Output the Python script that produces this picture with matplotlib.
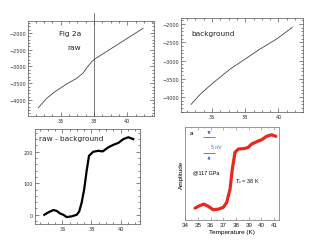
import matplotlib
matplotlib.use('Agg')
import matplotlib.pyplot as plt
from matplotlib.ticker import MultipleLocator

# raw signal (top left)
raw_t = [34.66, 35.16, 35.66, 36.36, 36.96, 37.35, 37.59, 37.86, 38.05,
         38.75, 39.55, 40.35, 40.95]
raw_v = [-4230, -3950, -3752, -3522, -3353, -3194, -3024, -2856, -2776,
         -2555, -2302, -2050, -1860]

# background (top right)
bg_t = [34.74, 35.3, 36.1, 37.1, 38.0, 38.9, 39.9, 40.84]
bg_v = [-4200, -3918, -3598, -3233, -2959, -2685, -2411, -2090]

# raw - background (bottom left)
diff_t = [34.77, 35.04, 35.38, 35.6, 35.84, 36.07, 36.3, 36.64, 36.99, 37.16,
          37.33, 37.5, 37.67, 37.83, 38.12, 38.47, 38.77, 39.15, 39.5, 39.84,
          40.18, 40.52, 40.86]
diff_v = [0, 7.5, 15, 12.7, 4.4, 0, -7.3, -5, 0, 10.6, 39, 81, 140, 187, 200,
          203, 201, 214, 222, 228, 240, 246, 240]

# published curve (bottom right), arbitrary amplitude units
pub_t = [34.78, 35.12, 35.49, 35.83, 36.22, 36.61, 37.0, 37.27, 37.53, 37.71,
         37.92, 38.18, 38.7, 38.96, 39.23, 39.62, 40.01, 40.4, 40.79, 41.13]
pub_v = [12.9, 15.4, 17.2, 14.7, 11.1, 11.8, 13.7, 19, 33.3, 54.8, 72.8, 76.3,
         77, 78.2, 81.7, 84.2, 86.3, 90, 91.7, 90]

fig = plt.figure(figsize=(3.27, 2.53), dpi=100)
fig.patch.set_facecolor('white')

spine_col = '#555555'


def igor_style(ax, ymaj, ymin):
    ax.xaxis.set_major_locator(MultipleLocator(2))
    ax.xaxis.set_minor_locator(MultipleLocator(0.5))
    ax.yaxis.set_major_locator(MultipleLocator(ymaj))
    ax.yaxis.set_minor_locator(MultipleLocator(ymin))
    ax.tick_params(which='both', direction='in', top=True, right=True,
                   labelsize=3.5, pad=1.5, width=0.5, colors=spine_col,
                   labelcolor='#333333')
    ax.tick_params(which='major', length=2.8)
    ax.tick_params(which='minor', length=1.5)
    for s in ax.spines.values():
        s.set_linewidth(0.5)
        s.set_color(spine_col)


# top left: raw
ax1 = fig.add_axes([0.0865, 0.539, 0.384, 0.375])
ax1.plot(raw_t, raw_v, color='#444444', lw=0.6)
ax1.axvline(38, ymin=0, ymax=1.08, color='#444444', lw=0.5, clip_on=False)
ax1.set_xlim(34.05, 41.6)
ax1.set_ylim(-4469, -1633)
igor_style(ax1, 500, 100)
ax1.text(35.9, -2000, 'Fig 2a', fontsize=5.3, va='center', color='#222222')
ax1.text(36.4, -2420, 'raw', fontsize=5.3, va='center', color='#222222')

# top right: background
ax2 = fig.add_axes([0.5535, 0.552, 0.373, 0.373])
ax2.plot(bg_t, bg_v, color='#444444', lw=0.6)
ax2.set_xlim(34.13, 41.48)
ax2.set_ylim(-4419, -1836)
igor_style(ax2, 500, 100)
ax2.text(34.75, -2250, 'background', fontsize=5.3, va='center',
         color='#222222')

# bottom left: raw - background
ax3 = fig.add_axes([0.107, 0.111, 0.321, 0.375])
ax3.plot(diff_t, diff_v, color='black', lw=1.6)
ax3.set_xlim(34.13, 41.32)
ax3.set_ylim(-29, 272)
igor_style(ax3, 100, 20)
ax3.text(34.4, 245, 'raw - background', fontsize=5.3, va='center',
         color='#222222')

# bottom right: published data
ax4 = fig.add_axes([0.566, 0.126, 0.287, 0.368])
ax4.plot(pub_t, pub_v, color='#e8281e', lw=2.3, solid_capstyle='round')
ax4.set_xlim(34, 41.37)
ax4.set_ylim(0, 100)
ax4.xaxis.set_major_locator(MultipleLocator(1))
ax4.xaxis.set_minor_locator(MultipleLocator(0.5))
ax4.set_yticks([])
ax4.tick_params(which='both', direction='in', top=True, labelsize=4.5,
                pad=1.5, width=0.4, colors='#777777', labelcolor='#222222')
ax4.tick_params(which='major', length=2)
ax4.tick_params(which='minor', length=1)
for s in ax4.spines.values():
    s.set_linewidth(0.6)
    s.set_color('#888888')
fnt = 'Liberation Sans'
ax4.set_xlabel('Temperature (K)', fontsize=4.6, labelpad=1, family=fnt)
ax4.set_ylabel('Amplitude', fontsize=4.6, labelpad=1, family=fnt)
for lab in ax4.get_xticklabels():
    lab.set_family(fnt)
ax4.text(34.35, 94, 'a', fontsize=4.5, va='center', family=fnt)

blue = '#3a6fc4'
ax4.hlines([89, 71.7], 35.39, 36.35, color=blue, lw=0.6)
ax4.annotate('', xy=(35.88, 89), xytext=(35.88, 97.5),
             arrowprops=dict(arrowstyle='-|>', color=blue, lw=0.5,
                             mutation_scale=4))
ax4.annotate('', xy=(35.88, 71.7), xytext=(35.88, 63),
             arrowprops=dict(arrowstyle='-|>', color=blue, lw=0.5,
                             mutation_scale=4))
ax4.text(36.0, 79, '5 nV', fontsize=3.7, color=blue, va='center', family=fnt)
ax4.text(34.65, 52, '@117 GPa', fontsize=3.9, va='center', family=fnt)
ax4.text(37.9, 42, r'$T_{\rm c}$ = 38 K', fontsize=3.9, va='center',
         family=fnt)

fig.savefig('out.png', dpi=100, facecolor='white')
